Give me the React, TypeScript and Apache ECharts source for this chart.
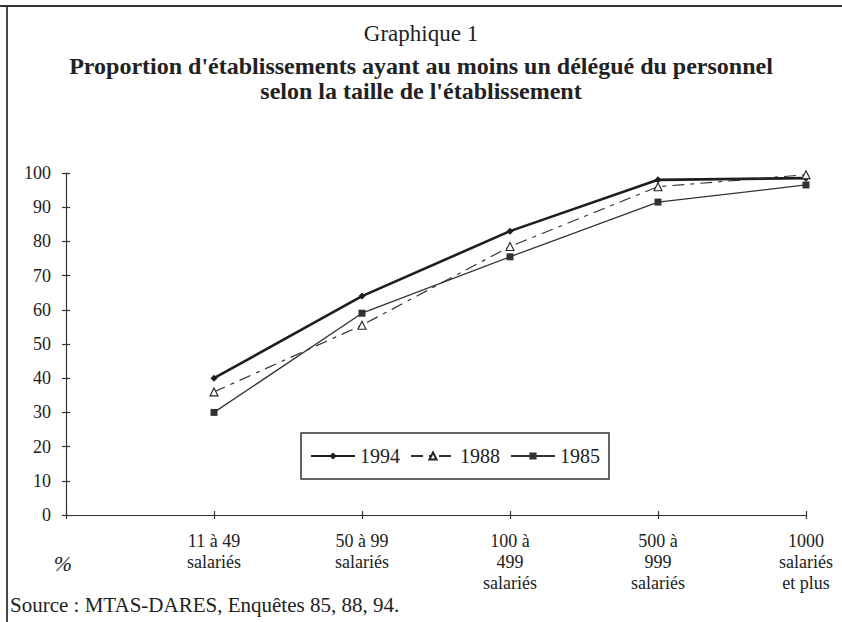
import React, { useEffect, useRef } from "react";
import * as echarts from "echarts";

const categories = [
  "11 à 49\nsalariés",
  "50 à 99\nsalariés",
  "100 à\n499\nsalariés",
  "500 à\n999\nsalariés",
  "1000\nsalariés\net plus",
];
const yTicks = [0, 10, 20, 30, 40, 50, 60, 70, 80, 90, 100];
const seriesNames = ["1994", "1988", "1985"];
const values1994 = [40, 64, 83, 98, 98.5];
const values1988 = [36, 55.5, 78.5, 96, 99.5];
const values1985 = [30, 59, 75.5, 91.5, 96.5];

const FONT = '"Liberation Serif", "Times New Roman", serif';
const INK = "#222";

export default function App() {
  const ref = useRef<HTMLDivElement>(null);
  useEffect(() => {
    if (!ref.current) return;
    const chart = echarts.init(ref.current, null, { renderer: "svg" });
    const toPts = (arr: number[]) => arr.map((v, i) => [i + 1, v]);
    const xBase = {
      type: "value",
      min: 0,
      max: categories.length,
      interval: 1,
      splitLine: { show: false },
    };
    const yBase = {
      type: "value",
      min: yTicks[0],
      max: yTicks[yTicks.length - 1],
      interval: yTicks[1] - yTicks[0],
      splitLine: { show: false },
    };
    chart.setOption({
      animation: false,
      backgroundColor: "#fff",
      textStyle: { fontFamily: FONT, color: INK },
      graphic: [
        { type: "line", shape: { x1: 0, y1: 6, x2: 842, y2: 6 }, style: { stroke: "#333", lineWidth: 1.8 } },
        { type: "line", shape: { x1: 7, y1: 6, x2: 7, y2: 622 }, style: { stroke: "#333", lineWidth: 1.8 } },
        {
          type: "text",
          x: 421,
          y: 33,
          style: { text: "Graphique 1", fontFamily: FONT, fontSize: 23, fill: INK, align: "center", verticalAlign: "middle" },
        },
        {
          type: "text",
          x: 421,
          y: 66,
          style: {
            text: "Proportion d'établissements ayant au moins un délégué du personnel",
            fontFamily: FONT,
            fontSize: 24,
            fontWeight: "bold",
            fill: INK,
            align: "center",
            verticalAlign: "middle",
          },
        },
        {
          type: "text",
          x: 421,
          y: 91,
          style: {
            text: "selon la taille de l'établissement",
            fontFamily: FONT,
            fontSize: 24,
            fontWeight: "bold",
            fill: INK,
            align: "center",
            verticalAlign: "middle",
          },
        },
        {
          type: "text",
          x: 63,
          y: 563,
          style: { text: "%", fontFamily: FONT, fontSize: 22, fontStyle: "italic", fill: INK, align: "center", verticalAlign: "middle" },
        },
        {
          type: "text",
          x: 10,
          y: 605,
          style: { text: "Source : MTAS-DARES, Enquêtes 85, 88, 94.", fontFamily: FONT, fontSize: 21, fill: INK, align: "left", verticalAlign: "middle" },
        },
      ],
      legend: {
        data: seriesNames,
        left: 301,
        top: 433,
        orient: "horizontal",
        itemWidth: 44,
        itemHeight: 9,
        itemGap: 10,
        padding: [13, 9, 13, 9],
        borderColor: "#333",
        borderWidth: 1.5,
        textStyle: { fontFamily: FONT, fontSize: 20, color: INK },
      },
      grid: { left: 66, right: 36, top: 173, bottom: 107, containLabel: false },
      xAxis: [
        {
          ...xBase,
          position: "bottom",
          axisLine: { show: true, lineStyle: { color: "#333", width: 1.2 } },
          axisTick: { show: true, length: 4, lineStyle: { color: "#333", width: 1.2 } },
          axisLabel: {
            show: true,
            margin: 15,
            fontFamily: FONT,
            fontSize: 18,
            lineHeight: 21,
            color: INK,
            verticalAlign: "top",
            formatter: (v: number) => categories[v - 1] ?? "",
          },
        },
        {
          ...xBase,
          position: "bottom",
          axisLine: { show: false },
          axisTick: { show: true, inside: true, length: 4, lineStyle: { color: "#333", width: 1.2 } },
          axisLabel: { show: false },
        },
      ],
      yAxis: [
        {
          ...yBase,
          position: "left",
          axisLine: { show: true, lineStyle: { color: "#333", width: 1.2 } },
          axisTick: { show: true, length: 4, lineStyle: { color: "#333", width: 1.2 } },
          axisLabel: { show: true, margin: 15, fontFamily: FONT, fontSize: 18, color: INK },
        },
        {
          ...yBase,
          position: "left",
          offset: 0,
          axisLine: { show: false },
          axisTick: { show: true, inside: true, length: 4, lineStyle: { color: "#333", width: 1.2 } },
          axisLabel: { show: false },
        },
      ],
      series: [
        {
          name: seriesNames[0],
          type: "line",
          data: toPts(values1994),
          symbol: "diamond",
          symbolSize: 7,
          lineStyle: { color: "#1e1e1e", width: 2.6 },
          itemStyle: { color: "#1e1e1e" },
        },
        {
          name: seriesNames[1],
          type: "line",
          data: toPts(values1988),
          symbol: "triangle",
          symbolSize: 8,
          lineStyle: { color: "#333", width: 1.2, type: [12, 6, 4, 6] },
          itemStyle: { color: "#fff", borderColor: "#222", borderWidth: 1.1 },
        },
        {
          name: seriesNames[2],
          type: "line",
          data: toPts(values1985),
          symbol: "rect",
          symbolSize: 7,
          lineStyle: { color: "#333", width: 1.3 },
          itemStyle: { color: "#333" },
        },
      ],
    });
    return () => chart.dispose();
  }, []);
  return (
    <div
      ref={ref}
      style={{ position: "fixed", left: 0, top: 0, width: 842, height: 622, background: "#fff" }}
    />
  );
}
